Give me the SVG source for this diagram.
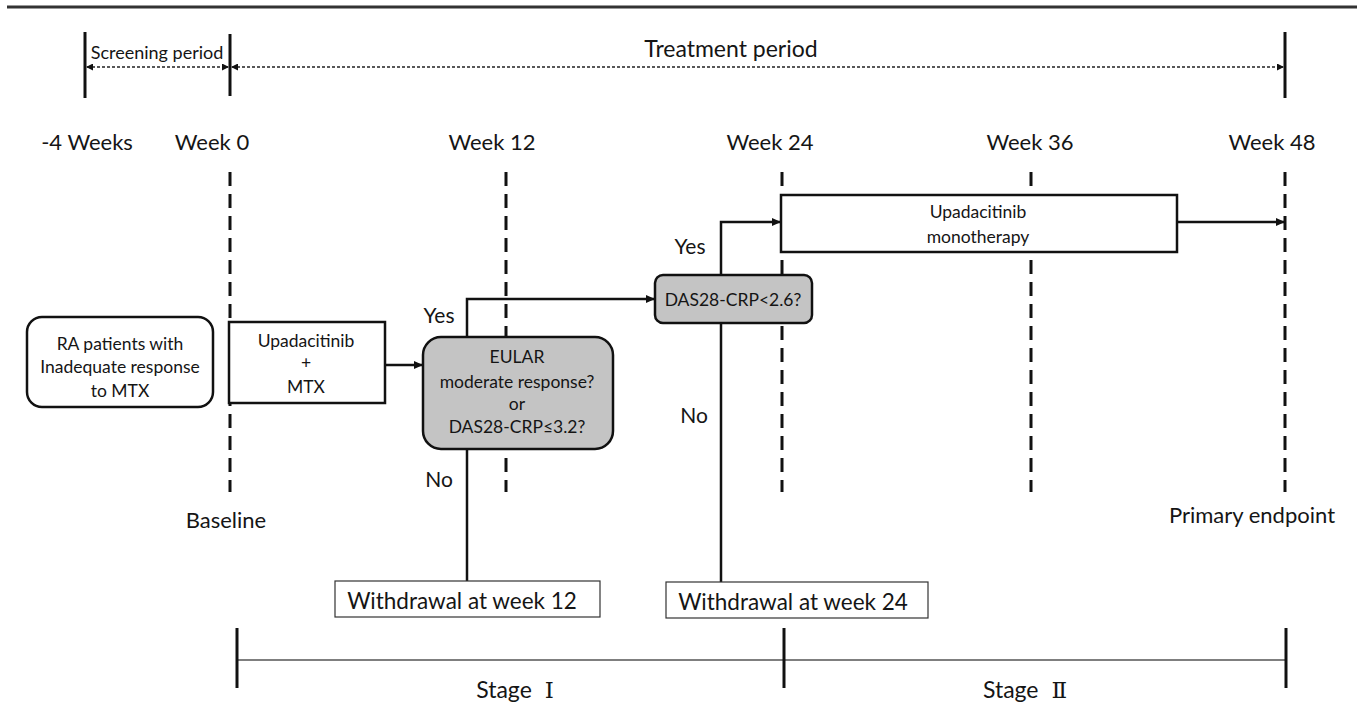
<svg xmlns="http://www.w3.org/2000/svg" width="1357" height="711" viewBox="0 0 1357 711">
<defs>
<style>
text{font-family:Lato,"Liberation Sans",sans-serif;fill:#151515;text-anchor:middle}
.wk{font-size:22px}
.lbl{font-size:21px}
.bx{font-size:17.5px}
.num{font-family:"DejaVu Serif","Noto Sans CJK SC",serif}
.tick{stroke:#111;stroke-width:3}
.dash{stroke:#111;stroke-width:3;stroke-dasharray:14 8}
.conn{stroke:#111;stroke-width:2.5;fill:none}
.dot{stroke:#222;stroke-width:1.5;stroke-dasharray:3 2;fill:none}
</style>
<marker id="ah" markerWidth="9" markerHeight="8" refX="8" refY="4" orient="auto" markerUnits="userSpaceOnUse">
<path d="M0,0 L9,4 L0,8 Z" fill="#111"/>
</marker>
<marker id="sa" markerWidth="7" markerHeight="7" refX="6" refY="3.5" orient="auto-start-reverse" markerUnits="userSpaceOnUse">
<path d="M0,0 L7,3.5 L0,7 Z" fill="#111"/>
</marker>
</defs>
<rect width="1357" height="711" fill="#fff"/>
<line x1="7" y1="7" x2="1357" y2="7" stroke="#333" stroke-width="3"/>

<g id="timeline">
<line class="tick" x1="85" y1="32" x2="85" y2="98"/>
<line class="tick" x1="230" y1="34" x2="230" y2="96"/>
<line class="tick" x1="1285" y1="32" x2="1285" y2="98"/>
<line class="dot" x1="87" y1="67" x2="228" y2="67" marker-start="url(#sa)" marker-end="url(#sa)"/>
<line class="dot" x1="232" y1="67" x2="1283" y2="67" marker-start="url(#sa)" marker-end="url(#sa)"/>
<text x="157" y="59" font-size="18">Screening period</text>
<text x="731" y="57" font-size="23">Treatment period</text>
<text class="wk" x="87" y="150">-4 Weeks</text>
<text class="wk" x="212" y="150">Week 0</text>
<text class="wk" x="492" y="150">Week 12</text>
<text class="wk" x="770" y="150">Week 24</text>
<text class="wk" x="1030" y="150">Week 36</text>
<text class="wk" x="1272" y="150">Week 48</text>
<line class="dash" x1="230" y1="172" x2="230" y2="492"/>
<line class="dash" x1="506" y1="172" x2="506" y2="492"/>
<line class="dash" x1="782" y1="172" x2="782" y2="492"/>
<line class="dash" x1="1031" y1="172" x2="1031" y2="492"/>
<line class="dash" x1="1285" y1="172" x2="1285" y2="492"/>
<text class="wk" x="226" y="528">Baseline</text>
<text class="wk" x="1252" y="523">Primary endpoint</text>
</g>

<g id="stages">
<line x1="237" y1="660" x2="1285" y2="660" stroke="#555" stroke-width="1.5"/>
<line class="tick" x1="237" y1="628" x2="237" y2="688"/>
<line class="tick" x1="784" y1="628" x2="784" y2="688"/>
<line class="tick" x1="1286" y1="628" x2="1286" y2="688"/>
<text x="515" y="698" font-size="23">Stage <tspan class="num" dx="7">Ⅰ</tspan></text>
<text x="1025" y="698" font-size="23">Stage <tspan class="num" dx="7">Ⅱ</tspan></text>
</g>

<g id="connectors">
<line class="conn" x1="385" y1="365" x2="422" y2="365" marker-end="url(#ah)"/>
<polyline class="conn" points="467,337 467,299 654,299" marker-end="url(#ah)"/>
<polyline class="conn" points="721,275 721,222 780,222" marker-end="url(#ah)"/>
<line class="conn" x1="1177" y1="222" x2="1284" y2="222" marker-end="url(#ah)"/>
<line class="conn" x1="467" y1="449" x2="467" y2="581"/>
<line class="conn" x1="721" y1="323" x2="721" y2="582"/>
<text class="lbl" x="439" y="323">Yes</text>
<text class="lbl" x="439" y="487">No</text>
<text class="lbl" x="690" y="254">Yes</text>
<text class="lbl" x="694" y="423">No</text>
</g>

<g id="ra">
<rect x="27" y="317" width="186" height="90" rx="15" fill="#fff" stroke="#111" stroke-width="2.5"/>
<text class="bx" x="120" y="350">RA patients with</text>
<text class="bx" x="120" y="373">Inadequate response</text>
<text class="bx" x="120" y="397">to MTX</text>
</g>

<g id="combo">
<rect x="229" y="322" width="156" height="81" fill="#fff" stroke="#111" stroke-width="2.5"/>
<text class="bx" x="306" y="347">Upadacitinib</text>
<text class="bx" x="306" y="369">+</text>
<text class="bx" x="306" y="393">MTX</text>
</g>

<g id="eular">
<rect x="423" y="337" width="190" height="112" rx="18" fill="#c4c4c4" stroke="#111" stroke-width="2.5"/>
<text class="bx" x="517" y="363">EULAR</text>
<text class="bx" x="517" y="388">moderate response?</text>
<text class="bx" x="517" y="410">or</text>
<text class="bx" x="517" y="433">DAS28-CRP≤3.2?</text>
</g>

<g id="das">
<rect x="655" y="275" width="157" height="48" rx="8" fill="#c4c4c4" stroke="#111" stroke-width="2.5"/>
<text class="bx" x="733" y="306">DAS28-CRP&lt;2.6?</text>
</g>

<g id="mono">
<rect x="781" y="195" width="396" height="57" fill="#fff" stroke="#111" stroke-width="2.5"/>
<text class="bx" x="978" y="218">Upadacitinib</text>
<text class="bx" x="978" y="243">monotherapy</text>
</g>

<g id="w12">
<rect x="335" y="581" width="265" height="36" fill="#fff" stroke="#333" stroke-width="1.2"/>
<text x="462" y="609" font-size="22.5">Withdrawal at week 12</text>
</g>

<g id="w24">
<rect x="666" y="582" width="262" height="36" fill="#fff" stroke="#333" stroke-width="1.2"/>
<text x="793" y="610" font-size="22.5">Withdrawal at week 24</text>
</g>
</svg>
